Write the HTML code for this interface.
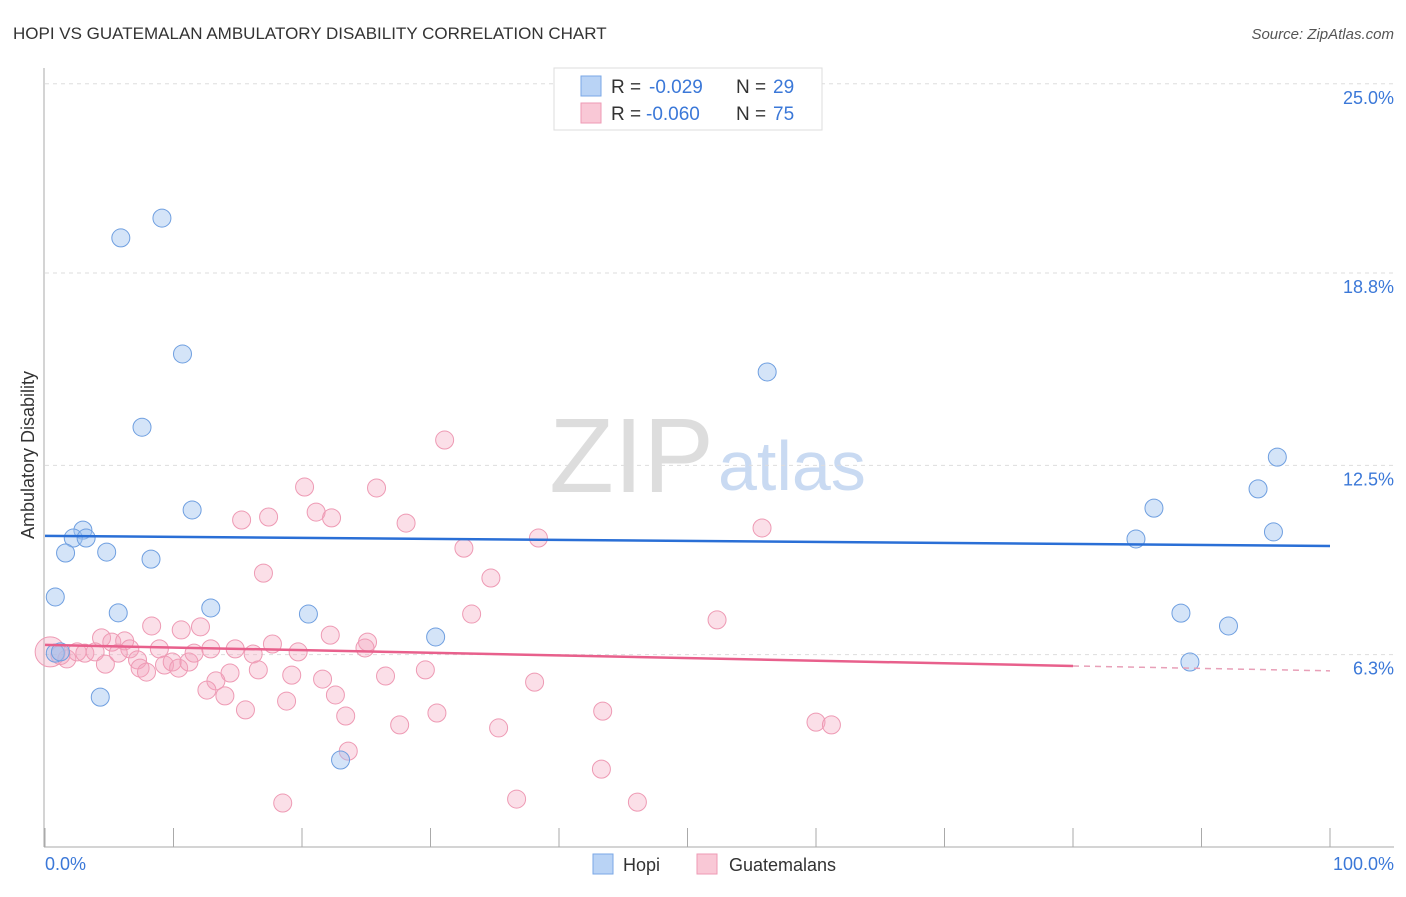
<!DOCTYPE html>
<html><head><meta charset="utf-8"><style>
body{margin:0;background:#fff;font-family:"Liberation Sans",sans-serif;}
svg text{font-family:"Liberation Sans",sans-serif;}
</style></head><body>
<svg width="1406" height="892" id="chart">
<text x="13" y="39" font-size="17" fill="#333">HOPI VS GUATEMALAN AMBULATORY DISABILITY CORRELATION CHART</text>
<text x="1394" y="39" font-size="15" fill="#555" font-style="italic" text-anchor="end">Source: ZipAtlas.com</text>
<text x="714" y="492" font-size="106" fill="#ddd" text-anchor="end" font-family="Liberation Serif,serif">ZIP</text>
<text x="718" y="490" font-size="70" fill="#c9daf2">atlas</text>
<g id="grid"></g>
<g id="axes"></g>
<g id="marks"></g>
<text x="34" y="455" font-size="18" fill="#333" text-anchor="middle" transform="rotate(-90 34 455)">Ambulatory Disability</text>
<text x="45" y="870" font-size="18" fill="#3b78d8">0.0%</text>
<text x="1394" y="870" font-size="18" fill="#3b78d8" text-anchor="end">100.0%</text>
<g>
<rect x="554" y="68" width="268" height="62" fill="#fff" stroke="#ddd"/>
<rect x="581" y="76" width="20" height="20" fill="#b9d3f5" stroke="#7aa7e6"/>
<rect x="581" y="103" width="20" height="20" fill="#f9c8d6" stroke="#ee9ab4"/>
<text x="611" y="93" font-size="19" fill="#333">R =</text><text x="649" y="93" font-size="19" fill="#3b78d8">-0.029</text>
<text x="736" y="93" font-size="19" fill="#333">N =</text><text x="773" y="93" font-size="19" fill="#3b78d8">29</text>
<text x="611" y="120" font-size="19" fill="#333">R =</text><text x="646" y="120" font-size="19" fill="#3b78d8">-0.060</text>
<text x="736" y="120" font-size="19" fill="#333">N =</text><text x="773" y="120" font-size="19" fill="#3b78d8">75</text>
</g>
<g>
<rect x="593" y="854" width="20" height="20" fill="#b9d3f5" stroke="#7aa7e6"/>
<text x="623" y="871" font-size="18" fill="#333">Hopi</text>
<rect x="697" y="854" width="20" height="20" fill="#f9c8d6" stroke="#ee9ab4"/>
<text x="729" y="871" font-size="18" fill="#333">Guatemalans</text>
</g>
</svg>
<script>
const yTicks=[6.3,12.5,18.8,25.0];
const yTickLabels=["6.3%","12.5%","18.8%","25.0%"];
const xTicks=[0,10,20,30,40,50,60,70,80,90,100];
const hopiX=[5.9,9.1,10.7,7.55,11.45,2.95,2.2,3.2,1.6,4.8,8.25,0.8,5.7,12.9,20.5,4.3,23.0,30.4,56.2,95.9,94.4,86.3,95.6,84.9,88.4,92.1,89.1,0.8,1.2];
const hopiY=[19.95,20.6,16.15,13.75,11.04,10.38,10.12,10.12,9.63,9.66,9.43,8.19,7.67,7.83,7.63,4.91,2.85,6.88,15.56,12.77,11.73,11.1,10.32,10.09,7.66,7.24,6.06,6.35,6.39];
const guatX=[31.1,20.2,25.8,21.1,15.3,17.4,22.3,28.1,38.4,55.8,32.6,17.0,34.7,33.2,52.3,8.3,10.6,12.1,4.4,5.2,6.2,6.6,8.9,12.9,14.8,17.7,19.7,22.2,25.1,24.9,1.7,2.5,3.1,3.9,4.7,5.7,7.2,7.4,7.9,9.3,9.9,10.4,11.2,11.6,16.2,16.6,14.4,13.3,12.6,14.0,15.6,19.2,21.6,22.6,23.4,18.8,26.5,29.6,27.6,30.5,23.6,18.5,38.1,35.3,43.4,43.3,36.7,46.1,60.0,61.2,0.4,1.2];
const guatY=[13.33,11.79,11.76,10.97,10.71,10.81,10.78,10.61,10.12,10.45,9.79,8.97,8.81,7.63,7.44,7.24,7.11,7.21,6.85,6.71,6.75,6.49,6.49,6.49,6.49,6.65,6.39,6.94,6.71,6.52,6.16,6.39,6.35,6.39,5.99,6.35,6.13,5.86,5.73,5.96,6.06,5.86,6.06,6.35,6.32,5.80,5.70,5.44,5.14,4.95,4.49,5.63,5.50,4.98,4.29,4.78,5.60,5.80,4.00,4.39,3.14,1.44,5.40,3.90,4.45,2.55,1.57,1.47,4.09,4.00,6.39,6.29];
const hopiTrend=[10.19,9.86];
const guatTrend=[6.62,5.93,5.77];
const X=v=>45+v*12.85, Y=v=>847-v*30.53;
const NS="http://www.w3.org/2000/svg";
function mk(parent,tag,attrs){const e=document.createElementNS(NS,tag);for(const k in attrs)e.setAttribute(k,attrs[k]);document.getElementById(parent).appendChild(e);return e;}
yTicks.forEach((t,i)=>{
 let l=mk('grid','line',{x1:45,x2:1394,y1:Y(t),y2:Y(t),stroke:'#ddd','stroke-dasharray':'4,4'});
 
 
 let tx=mk('grid','text',{x:1394,y:Y(t)+20,'font-size':18,fill:'#3b78d8','text-anchor':'end'});
 tx.textContent=yTickLabels[i];
 
 
});
let ax=mk('axes','line',{x1:44,x2:44,y1:68,y2:847,stroke:'#aaa'});


let bx=mk('axes','line',{x1:44,x2:1394,y1:847,y2:847,stroke:'#aaa'});


xTicks.forEach(t=>{
 let l=mk('axes','line',{x1:X(t),x2:X(t),y1:828,y2:847,stroke:'#aaa'});
 
 
});
guatX.forEach((x,i)=>{
 let c=mk('marks','circle',{cx:X(x),cy:Y(guatY[i]),r:i>=guatX.length-2?(i==guatX.length-2?15:9.5):9,fill:'rgba(244,163,188,0.35)',stroke:'#ee9ab4','stroke-width':1});
 
 
});
hopiX.forEach((x,i)=>{
 let c=mk('marks','circle',{cx:X(x),cy:Y(hopiY[i]),r:9,fill:'rgba(160,195,240,0.45)',stroke:'#6f9fe0','stroke-width':1});
 
 
});
let hl=mk('marks','line',{x1:X(0),x2:X(100),y1:Y(hopiTrend[0]),y2:Y(hopiTrend[1]),stroke:'#2a6fd6','stroke-width':2.5});


let gl=mk('marks','line',{x1:X(0),x2:X(80),y1:Y(guatTrend[0]),y2:Y(guatTrend[1]),stroke:'#e8608c','stroke-width':2.5});


let gd=mk('marks','line',{x1:X(80),x2:X(100),y1:Y(guatTrend[1]),y2:Y(guatTrend[2]),stroke:'#e8a0b8','stroke-width':1.5,'stroke-dasharray':'6,5'});


</script>
</body></html>
